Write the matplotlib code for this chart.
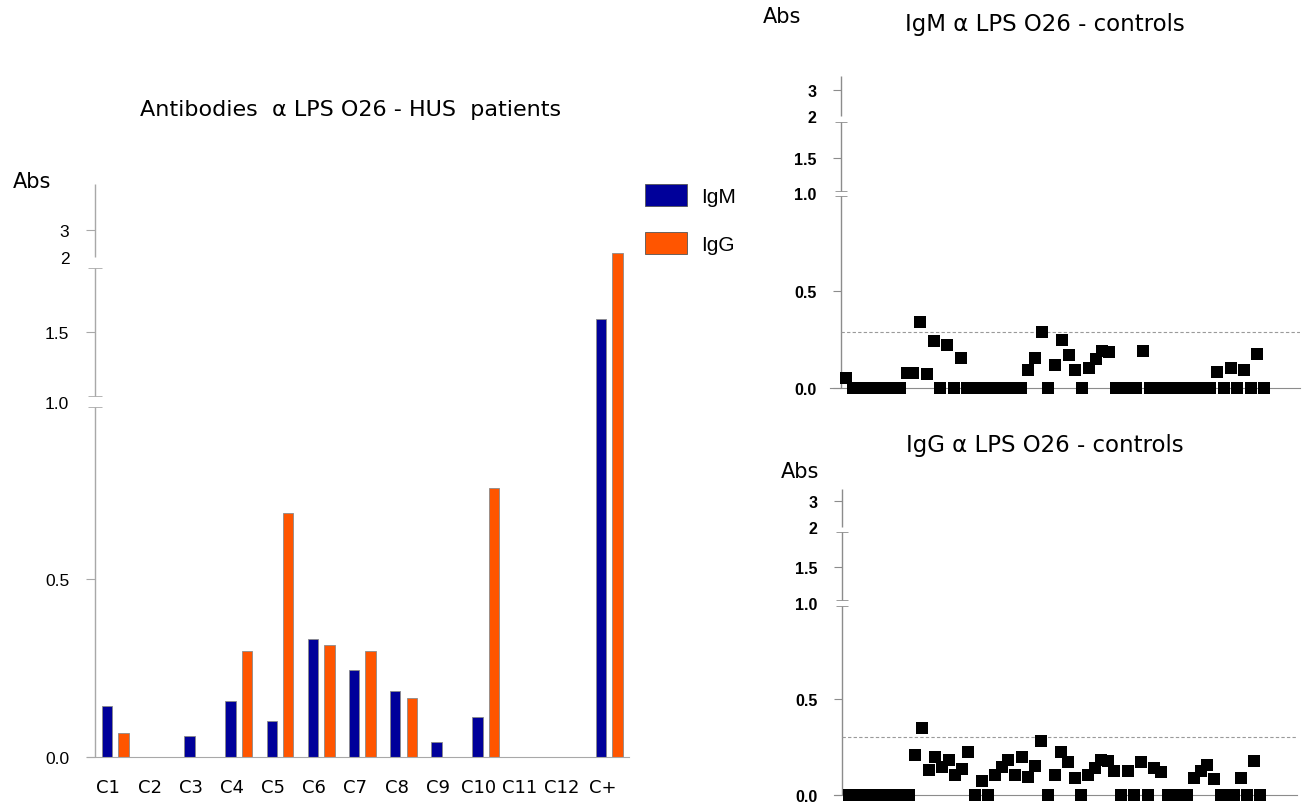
import numpy as np
import matplotlib.pyplot as plt
import matplotlib.transforms as mtransforms
from matplotlib.patches import Patch

# HUS patients (left chart)
patients = ["C1", "C2", "C3", "C4", "C5", "C6", "C7", "C8", "C9", "C10", "C11", "C12", "C+"]
igm_patients = [0.143, 0, 0.059, 0.158, 0.101, 0.331, 0.243, 0.186, 0.042, 0.112, 0, 0, 1.594]
igg_patients = [0.067, 0, 0, 0.297, 0.685, 0.314, 0.297, 0.164, 0, 0.756, 0, 0, 2.30]

# controls (right charts), one value per serum
igm_controls = [0.049, 0, 0, 0, 0, 0, 0, 0, 0,
                0.077, 0.077, 0.339, 0.070, 0.241, 0, 0.220, 0, 0.153,
                0, 0, 0, 0, 0, 0, 0, 0, 0,
                0.095, 0.153, 0.288, 0, 0.118, 0.248, 0.172, 0.093, 0, 0.104, 0.148, 0.190, 0.186,
                0, 0, 0, 0, 0.190,
                0, 0, 0, 0, 0, 0, 0, 0, 0, 0,
                0.083, 0, 0.102, 0, 0.095, 0, 0.174, 0]
igg_controls = [0, 0, 0, 0, 0, 0, 0, 0, 0, 0,
                0.209, 0.349, 0.131, 0.200, 0.145, 0.182, 0.104, 0.133, 0.222, 0,
                0.073, 0, 0.104, 0.145, 0.182, 0.104, 0.196, 0.095, 0.151, 0.282,
                0, 0.105, 0.224, 0.173, 0.089, 0, 0.102, 0.142, 0.182, 0.176,
                0.127, 0, 0.127, 0, 0.173, 0, 0.142, 0.122,
                0, 0, 0, 0,
                0.087, 0.124, 0.155, 0.082,
                0, 0, 0,
                0.091, 0, 0.176, 0]
cutoff_igm = 0.29
cutoff_igg = 0.30

tick_vals = [0.0, 0.5, 1.0, 1.5, 2.0, 3.0]
tick_text = ["0.0", "0.5", "1.0", "1.5", "2", "3"]
breaks = [1.0, 2.0]

BLUE = "#00009a"
ORANGE = "#ff5500"
COMIC = "DejaVu Sans"
ARIAL = "Liberation Sans"

W, H = 1314, 804
fig = plt.figure(figsize=(W / 100, H / 100), dpi=100)


def fig_box(left, top, right, bottom):
    # pixel box -> figure fraction
    return [left / W, 1 - bottom / H, (right - left) / W, (bottom - top) / H]


def broken_scale(ax, knots_v, knots_px, top):
    v = np.array(knots_v, float)
    p = np.array(knots_px, float)
    s0 = (p[1] - p[0]) / (v[1] - v[0])
    s1 = (p[-1] - p[-2]) / (v[-1] - v[-2])
    v = np.r_[v[0] - 10, v, v[-1] + 10]
    p = np.r_[p[0] - 10 * s0, p, p[-1] + 10 * s1]
    fwd = lambda y: np.interp(y, v, p)
    inv = lambda q: np.interp(q, p, v)
    ax.set_yscale("function", functions=(fwd, inv))
    ax.set_ylim(0, top)
    return fwd, inv


def broken_axis(ax, x_axis, fwd, inv, top, gap, color, tick_len, brk_len,
                pad, size, weight):
    edges = [0.0]
    for b in breaks:
        edges += [float(inv(fwd(b) - gap)), float(inv(fwd(b) + gap))]
    edges.append(top)
    for a, b in zip(edges[::2], edges[1::2]):
        ax.vlines(x_axis, a, b, color=color, lw=1, clip_on=False)
    ax.spines["left"].set_position(("data", x_axis))
    ax.spines["left"].set_visible(False)
    # "2" sits on the upper break mark
    pos = list(tick_vals)
    pos[4] = edges[4]
    ax.set_yticks(pos, tick_text)
    ax.set_yticks(edges[1:-1], minor=True)
    ax.tick_params(axis="y", which="major", direction="out", length=tick_len,
                   color=color, pad=pad, labelsize=size)
    ax.tick_params(axis="y", which="minor", direction="inout", length=brk_len,
                   color=color)
    ticks = ax.yaxis.get_major_ticks()
    ticks[2].tick1line.set_visible(False)
    ticks[4].tick1line.set_visible(False)
    for lab in ax.get_yticklabels():
        lab.set_fontfamily(ARIAL)
        lab.set_fontweight(weight)


# ---------- left: HUS patients ----------
ax = fig.add_axes(fig_box(87, 185, 629, 757.7))
x = np.arange(len(patients))
ax.bar(x - 0.2, igm_patients, 0.25, color=BLUE, edgecolor="#8a8a8a", lw=0.6)
ax.bar(x + 0.2, igg_patients, 0.25, color=ORANGE, edgecolor="#8a8a8a", lw=0.6)
ax.set_xlim(-0.687, 12.477)
top_l = 4.39
fwd, inv = broken_scale(ax, [0, 1.0, 1.5, 2.0, 3.0], [0, 355, 424.7, 493.7, 526.7], top_l)
broken_axis(ax, -0.493, fwd, inv, top_l, 5.5, "#a8a8a8", 6.5, 10, 12, 12.5, "normal")
for s in ["top", "right"]:
    ax.spines[s].set_visible(False)
ax.spines["bottom"].set_color("#a8a8a8")
ax.set_xticks(x, patients)
ax.tick_params(axis="x", length=0, pad=15, labelsize=13)
shift = mtransforms.ScaledTranslation(-5 / 72, 0, fig.dpi_scale_trans)
for lab in ax.get_xticklabels():
    lab.set_fontfamily(COMIC)
    lab.set_transform(lab.get_transform() + shift)

fig.legend(handles=[Patch(facecolor=BLUE, edgecolor="#555555", lw=0.6, label="IgM"),
                    Patch(facecolor=ORANGE, edgecolor="#555555", lw=0.6, label="IgG")],
           loc="upper left", bbox_to_anchor=(637 / W, 1 - 177 / H), frameon=False,
           prop={"family": ARIAL, "size": 15}, handlelength=2.0, handleheight=1.25,
           labelspacing=1.25, handletextpad=0.7, borderaxespad=0)

fig.text(351 / W, 1 - 110 / H, "Antibodies  \u03b1 LPS O26 - HUS  patients",
         ha="center", va="center", fontsize=16, family=COMIC)
fig.text(32 / W, 1 - 182 / H, "Abs", ha="center", va="center", fontsize=15, family=COMIC)


# ---------- right: controls ----------
def controls(box, values, cutoff, xlim, x_axis, knots_px, top, title, title_xy, abs_xy):
    ax = fig.add_axes(fig_box(*box))
    idx = np.arange(len(values))
    ax.plot(idx, values, "s", color="black", ms=8.6, mew=0, clip_on=False, zorder=3)
    ax.set_xlim(*xlim)
    fwd, inv = broken_scale(ax, [0, 1.0, 1.5, 2.0, 3.0], knots_px, top)
    broken_axis(ax, x_axis, fwd, inv, top, 2.8, "#8c8c8c", 5.5, 8, 12, 11.5, "bold")
    ax.hlines(cutoff, x_axis, xlim[1], colors="#9a9a9a", linestyles=(0, (3, 2)), lw=0.8)
    for s in ["top", "right"]:
        ax.spines[s].set_visible(False)
    ax.spines["bottom"].set_color("#8c8c8c")
    ax.set_xticks([])
    fig.text(title_xy[0] / W, 1 - title_xy[1] / H, title, ha="center", va="center",
             fontsize=16.5, family=COMIC)
    fig.text(abs_xy[0] / W, 1 - abs_xy[1] / H, "Abs", ha="center", va="center",
             fontsize=15, family=COMIC)


controls((830, 77, 1300, 389), igm_controls, cutoff_igm, (-2.37, 67.3), -0.74,
         [0, 194.5, 230, 269, 298], 3.48,
         "IgM \u03b1 LPS O26 - controls", (1045, 24), (782, 17))
controls((834, 490, 1297, 796), igg_controls, cutoff_igg, (-2.26, 67.5), -1.05,
         [0, 192, 228, 265.5, 294], 3.42,
         "IgG \u03b1 LPS O26 - controls", (1045, 446), (800, 472))

fig.savefig("out.png", dpi=100)
